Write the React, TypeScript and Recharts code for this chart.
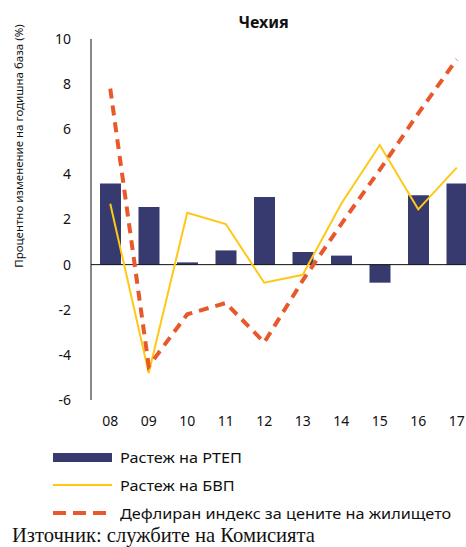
import {
  ComposedChart,
  Bar,
  Line,
  XAxis,
  YAxis,
  ReferenceLine,
} from 'recharts';

const years = ['08', '09', '10', '11', '12', '13', '14', '15', '16', '17'];
const rtepGrowth = [3.6, 2.55, 0.1, 0.63, 3.0, 0.56, 0.4, -0.8, 3.07, 3.6];
const gdpGrowth = [2.7, -4.8, 2.3, 1.8, -0.8, -0.45, 2.7, 5.3, 2.45, 4.3];
const housePrices = [7.8, -4.5, -2.2, -1.7, -3.45, -0.7, 1.8, 4.2, 6.7, 9.1];
const yTicks = [-6, -4, -2, 0, 2, 4, 6, 8, 10];

const COLORS = {
  bar: '#363a6e',
  gdp: '#ffc815',
  house: '#e8582b',
};

const FONT = '"Noto Sans", "DejaVu Sans", sans-serif';

const data = years.map((y, i) => ({
  year: y,
  rtep: rtepGrowth[i],
  gdp: gdpGrowth[i],
  house: housePrices[i],
}));

const legendRow = (top: number): React.CSSProperties => ({
  position: 'absolute',
  left: 53,
  top,
  height: 20,
  display: 'flex',
  alignItems: 'center',
  fontFamily: FONT,
  fontSize: 14.5,
  color: '#111',
  whiteSpace: 'nowrap',
});

const legendText: React.CSSProperties = {
  display: 'inline-block',
  transform: 'scaleX(1.12)',
  transformOrigin: 'left center',
};

export default function App() {
  return (
    <div
      style={{
        position: 'absolute',
        left: 0,
        top: 0,
        width: 466,
        height: 547,
        overflow: 'hidden',
        background: '#fff',
      }}
    >
      <div
        style={{
          position: 'absolute',
          left: 0,
          width: 527,
          top: 11,
          textAlign: 'center',
          fontFamily: FONT,
          fontWeight: 'bold',
          fontSize: 16,
          color: '#111',
        }}
      >
        Чехия
      </div>
      <div style={{ position: 'absolute', left: 18, top: 146, width: 0, height: 0 }}>
        <div
          style={{
            position: 'absolute',
            transform: 'translate(-50%, -50%) rotate(-90deg)',
            whiteSpace: 'nowrap',
            fontFamily: FONT,
            fontSize: 11.5,
            color: '#111',
          }}
        >
          Процентно изменение на годишна база (%)
        </div>
      </div>
      <div style={{ position: 'absolute', left: 0, top: 0 }}>
        <ComposedChart
          width={480}
          height={440}
          data={data}
          margin={{ top: 39, right: 4, left: 51, bottom: 10 }}
        >
          <XAxis
            dataKey="year"
            height={30}
            axisLine={false}
            tickLine={false}
            tick={{ fontSize: 14, fill: '#111', fontFamily: FONT }}
            tickMargin={10}
            interval={0}
          />
          <YAxis
            width={40}
            domain={[-6, 10]}
            ticks={yTicks}
            axisLine={{ stroke: '#111', strokeWidth: 1 }}
            tickLine={false}
            tick={{ fontSize: 14, fill: '#111', fontFamily: FONT }}
            tickMargin={14}
          />
          <ReferenceLine y={0} stroke="#111" strokeWidth={1} />
          <Bar dataKey="rtep" fill={COLORS.bar} barSize={21} isAnimationActive={false} />
          <Line
            dataKey="gdp"
            stroke={COLORS.gdp}
            strokeWidth={2}
            dot={false}
            type="linear"
            isAnimationActive={false}
          />
          <Line
            dataKey="house"
            stroke={COLORS.house}
            strokeWidth={4}
            strokeDasharray="10 7"
            dot={false}
            type="linear"
            isAnimationActive={false}
          />
        </ComposedChart>
      </div>

      <div style={legendRow(447)}>
        <span style={{ width: 59, height: 9, background: COLORS.bar, marginRight: 8 }} />
        <span style={legendText}>Растеж на РТЕП</span>
      </div>
      <div style={legendRow(475)}>
        <span style={{ width: 59, height: 2, background: COLORS.gdp, marginRight: 8 }} />
        <span style={legendText}>Растеж на БВП</span>
      </div>
      <div style={legendRow(503)}>
        <svg width={59} height={6} style={{ marginRight: 8 }}>
          <line x1={0} y1={3} x2={59} y2={3} stroke={COLORS.house} strokeWidth={4} strokeDasharray="13 7" />
        </svg>
        <span style={legendText}>Дефлиран индекс за цените на жилището</span>
      </div>
      <div
        style={{
          position: 'absolute',
          left: 12,
          top: 524,
          fontFamily: '"Liberation Serif", serif',
          fontSize: 20.6,
          color: '#111',
          whiteSpace: 'nowrap',
        }}
      >
        Източник: службите на Комисията
      </div>
    </div>
  );
}
